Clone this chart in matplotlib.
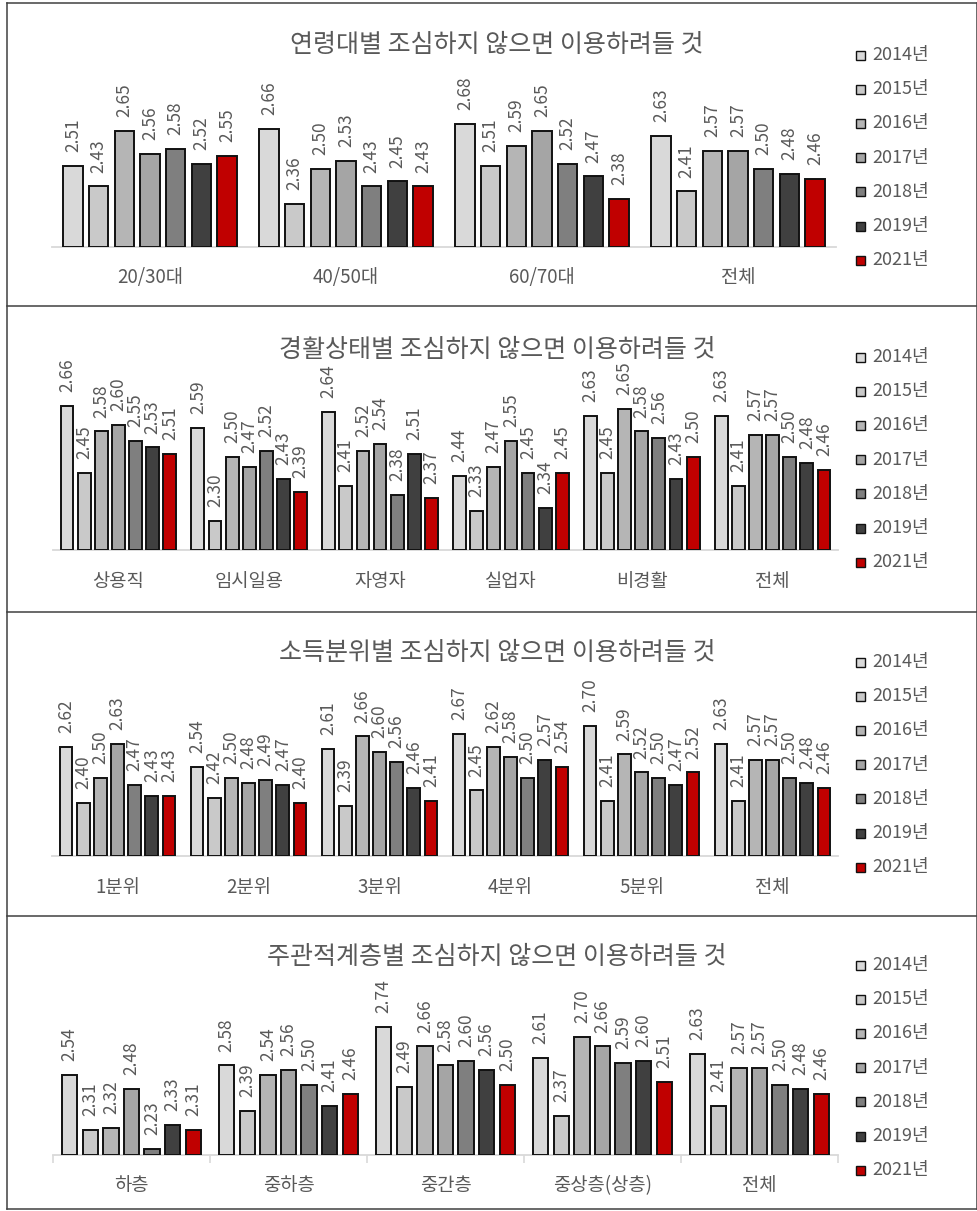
import matplotlib
matplotlib.use("Agg")
import matplotlib.pyplot as plt
from matplotlib.patches import Rectangle
from matplotlib.lines import Line2D

plt.rcParams['font.family'] = ['Noto Sans CJK KR', 'DejaVu Sans']

# ---- data ----
years = ['2014년', '2015년', '2016년', '2017년', '2018년', '2019년', '2021년']
year_colors = ['#D9D9D9', '#C9C9C9', '#B5B5B5', '#A5A5A5', '#7F7F7F', '#404040', '#C00000']

age_title = '연령대별 조심하지 않으면 이용하려들 것'
age_cats = ['20/30대', '40/50대', '60/70대', '전체']
age_vals = [
    [2.51, 2.66, 2.68, 2.63],
    [2.43, 2.36, 2.51, 2.41],
    [2.65, 2.50, 2.59, 2.57],
    [2.56, 2.53, 2.65, 2.57],
    [2.58, 2.43, 2.52, 2.50],
    [2.52, 2.45, 2.47, 2.48],
    [2.55, 2.43, 2.38, 2.46],
]

econ_title = '경활상태별 조심하지 않으면 이용하려들 것'
econ_cats = ['상용직', '임시일용', '자영자', '실업자', '비경활', '전체']
econ_vals = [
    [2.66, 2.59, 2.64, 2.44, 2.63, 2.63],
    [2.45, 2.30, 2.41, 2.33, 2.45, 2.41],
    [2.58, 2.50, 2.52, 2.47, 2.65, 2.57],
    [2.60, 2.47, 2.54, 2.55, 2.58, 2.57],
    [2.55, 2.52, 2.38, 2.45, 2.56, 2.50],
    [2.53, 2.43, 2.51, 2.34, 2.43, 2.48],
    [2.51, 2.39, 2.37, 2.45, 2.50, 2.46],
]

income_title = '소득분위별 조심하지 않으면 이용하려들 것'
income_cats = ['1분위', '2분위', '3분위', '4분위', '5분위', '전체']
income_vals = [
    [2.62, 2.54, 2.61, 2.67, 2.70, 2.63],
    [2.40, 2.42, 2.39, 2.45, 2.41, 2.41],
    [2.50, 2.50, 2.66, 2.62, 2.59, 2.57],
    [2.63, 2.48, 2.60, 2.58, 2.52, 2.57],
    [2.47, 2.49, 2.56, 2.50, 2.50, 2.50],
    [2.43, 2.47, 2.46, 2.57, 2.47, 2.48],
    [2.43, 2.40, 2.41, 2.54, 2.52, 2.46],
]

class_title = '주관적계층별 조심하지 않으면 이용하려들 것'
class_cats = ['하층', '중하층', '중간층', '중상층(상층)', '전체']
class_vals = [
    [2.54, 2.58, 2.74, 2.61, 2.63],
    [2.31, 2.39, 2.49, 2.37, 2.41],
    [2.32, 2.54, 2.66, 2.70, 2.57],
    [2.48, 2.56, 2.58, 2.66, 2.57],
    [2.23, 2.50, 2.60, 2.59, 2.50],
    [2.33, 2.41, 2.56, 2.60, 2.48],
    [2.31, 2.46, 2.50, 2.51, 2.46],
]

# ---- layout (pixels) ----
W, H = 978, 1211
fig = plt.figure(figsize=(W / 100, H / 100), dpi=100)

TEXT = '#595959'
AXIS = '#D9D9D9'

def px_rect(x0, x1, ytop, ybot):
    return [x0 / W, 1 - ybot / H, (x1 - x0) / W, (ybot - ytop) / H]

panels = [
    # title, cats, vals, x0, x1, baseline y, ymin, px per unit, title y, legend y0, ticks
    (age_title, age_cats, age_vals, 52, 836, 246.7, 2.19, 251, 45, 55, False),
    (econ_title, econ_cats, econ_vals, 53, 838, 550, 2.208, 318.6, 350, 357, False),
    (income_title, income_cats, income_vals, 52, 838, 856, 2.195, 257, 653, 662, False),
    (class_title, class_cats, class_vals, 53, 838, 1155, 2.205, 238.7, 957, 965, True),
]

YMAX = 2.8
PITCH = 0.131
WIDTH = 0.098

for title, cats, vals, x0, x1, base, ymin, scale, ty, ly0, ticks in panels:
    top = base - (YMAX - ymin) * scale
    ax = fig.add_axes(px_rect(x0, x1, top, base))
    n = len(cats)
    for j, (series, col) in enumerate(zip(vals, year_colors)):
        xs = [i + (j - 3) * PITCH for i in range(n)]
        ax.bar(xs, [v - ymin for v in series], bottom=ymin, width=WIDTH,
               color=col, edgecolor='#111111', linewidth=1.4, zorder=3)
        for x, v in zip(xs, series):
            ax.annotate(f'{v:.2f}', xy=(x, v), xytext=(0, 10),
                        textcoords='offset points', rotation=90,
                        ha='center', va='bottom', fontsize=12.5,
                        color=TEXT, annotation_clip=False)
    ax.set_xlim(-0.5, n - 0.5)
    ax.set_ylim(ymin, YMAX)
    for s in ['top', 'right', 'left']:
        ax.spines[s].set_visible(False)
    ax.spines['bottom'].set_color(AXIS)
    ax.spines['bottom'].set_linewidth(1.3)
    ax.set_yticks([])
    ax.set_xticks([])
    if ticks:
        ax.set_xticks([k - 0.5 for k in range(n + 1)])
        ax.set_xticklabels([])
        ax.tick_params(axis='x', length=5.5, width=1.2, color=AXIS, direction='out')
    for i, c in enumerate(cats):
        ax.annotate(c, xy=(i, 0), xycoords=('data', 'axes fraction'),
                    xytext=(0, -31 * 0.72), textcoords='offset points',
                    ha='center', va='center', fontsize=13.5, color=TEXT,
                    annotation_clip=False)
    ax.patch.set_alpha(0)

    fig.text(497 / W, 1 - ty / H, title, ha='center', va='center',
             fontsize=18, fontweight='medium', color=TEXT)

    # legend
    for j, (lab, col) in enumerate(zip(years, year_colors)):
        yc = ly0 + j * 34.2
        fig.add_artist(Rectangle(((856) / W, 1 - (yc + 4.5) / H), 9 / W, 9 / H,
                                 transform=fig.transFigure, facecolor=col,
                                 edgecolor='#111111', linewidth=1.0))
        fig.text(872 / W, 1 - yc / H, lab, ha='left', va='center',
                 fontsize=13, color=TEXT)

# frame and separators
BORDER = '#404040'
def hline(y, x0=7, x1=977):
    fig.add_artist(Line2D([x0 / W, x1 / W], [1 - y / H, 1 - y / H],
                          transform=fig.transFigure, color=BORDER, linewidth=1.1))
def vline(x, y0=3, y1=1209):
    fig.add_artist(Line2D([x / W, x / W], [1 - y0 / H, 1 - y1 / H],
                          transform=fig.transFigure, color=BORDER, linewidth=1.1))

for y in [3, 306, 612, 916, 1209]:
    hline(y)
vline(7)
vline(977)

fig.savefig('out.png', dpi=100, facecolor='white')
